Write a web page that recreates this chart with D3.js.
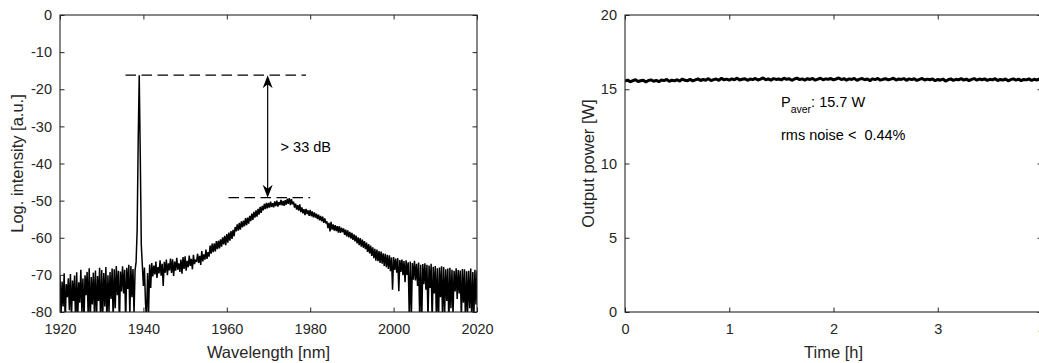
<!DOCTYPE html>
<html>
<head>
<meta charset="utf-8">
<script src="https://cdn.jsdelivr.net/npm/d3@7"></script>
<style>
  html, body { margin: 0; padding: 0; background: #fff; }
  svg { display: block; font-family: "Liberation Sans", Arial, Helvetica, sans-serif; }
  .axis text { fill: #262626; font-size: 14.5px; font-family: "Liberation Sans", Arial, sans-serif; }
  .axis line { stroke: #262626; stroke-width: 1; }
  .axis .domain { display: none; }
</style>
</head>
<body>
<svg id="chart" width="1039" height="363"></svg>
<script>
// ---------- Left panel: optical spectrum ----------
// Log. intensity (dB) sampled every 0.25 nm starting at 1920 nm
const spectrumStartNm = 1920;
const spectrumStepNm = 0.25;
const spectrumDb = [
  // 1920-1924
  -70.4, -81, -71.8, -78.5,  -69.6, -83, -72.5, -76,  -70.9, -79.5, -69.8, -82,  -71.5, -77, -70.2, -84,  -69.3, -81.5, -72, -77.5,
  // 1925-1929
  -68.6, -80, -71, -83,  -70.1, -75.5, -69.2, -81,  -68.2, -83.5, -70.6, -78,  -69.4, -80.5, -68.8, -82.5,  -70.3, -77, -68.1, -84,
  // 1930-1934
  -68.7, -81, -69.5, -78.5,  -67.9, -83, -70.1, -80,  -69.2, -76.5, -68.3, -82,  -68.5, -79, -67.6, -75.5,  -68.9, -84, -69.1, -74.5,
  // 1935-1939 (signal line near 1939 nm)
  -67.7, -75, -68.6, -83,  -68.1, -73.8, -67.3, -81,  -67.6, -76, -68.4, -80.5,  -68.8, -66.5, -58, -34,  -16.2, -38, -62, -67.5,
  // 1940-1944
  -73, -68, -77.5, -82,  -69.5, -80, -67.2, -73.5,  -66.8, -70.4, -67.5, -69.9,  -66.4, -70.8, -67.9, -69.6,  -66.1, -70.2, -67, -73,
  // 1945-1949
  -66.5, -69.4, -65.9, -70.1,  -66.9, -68.8, -65.6, -69.5,  -65.8, -70.3, -66.4, -68.9,  -65.4, -68.6, -66.9, -69.2,  -65.9, -69.7, -65.2, -68.4,
  // 1950-1954
  -65, -68.9, -66.2, -67.9,  -64.8, -67.6, -65.7, -68.5,  -64.6, -67.1, -65.9, -66.5,  -64.3, -66.8, -64.9, -67.3,  -63.6, -66.4, -64.5, -65.9,
  // 1955-1959
  -63.2, -65.7, -63.9, -65.1,  -62.1, -64.3, -61.6, -63.9,  -61.5, -63.7, -60.9, -63.1,  -60.8, -62.9, -60.4, -62.4,  -59.9, -61.8, -59.5, -62,
  // 1960-1964
  -59, -61.3, -58.6, -60.8,  -58.2, -60.3, -57.9, -59.6,  -57.1, -58.3, -56.4, -58.1,  -56, -57.8, -55.6, -57.2,  -55.4, -56.9, -54.7, -56.6,
  // 1965-1969
  -54.6, -56.2, -54.1, -55.5,  -53.5, -55.2, -53, -54.6,  -52.6, -54.3, -52.2, -53.8,  -51.7, -53.3, -51.4, -52.6,  -50.9, -52.3, -50.6, -52.1,
  // 1970-1974
  -50.6, -51.9, -50.3, -51.7,  -50.7, -51.8, -50.2, -51.5,  -50, -51.6, -50.4, -51.2,  -49.8, -51.3, -50.1, -51.4,  -49.9, -51.1, -49.5, -50.9,
  // 1975-1979
  -49.3, -51.2, -49.6, -51,  -50.3, -51.9, -50.8, -52.4,  -51.2, -52.7, -51, -53.1,  -51.8, -53.4, -52.3, -53.9,  -52.2, -53.6, -52.6, -54.1,
  // 1980-1984
  -52.5, -54.2, -52.9, -54.5,  -53.2, -54.6, -53.5, -55,  -53.8, -55.3, -54.1, -55.6,  -54.3, -56, -54.8, -56.1,  -55.6, -57.4, -56, -58.3,
  // 1985-1989
  -55.7, -57.8, -56.4, -58.1,  -56.6, -58.2, -56.9, -58.6,  -56.9, -58.7, -57.3, -58.5,  -57.5, -59.2, -57.8, -59.6,  -58, -59.9, -58.4, -60.2,
  // 1990-1994
  -58.7, -60.6, -59.1, -61,  -59.4, -61.5, -59.9, -62,  -60.1, -62.4, -60.5, -62.7,  -60.9, -63.1, -61.3, -63.8,  -61.7, -64.2, -62.1, -64.9,
  // 1995-1999
  -62.6, -65.5, -63, -66.2,  -63.2, -66.3, -63.6, -66.8,  -63.7, -67, -64.2, -67.6,  -64.3, -67.9, -64.6, -68.4,  -64.7, -69, -65.3, -74,
  // 2000-2004
  -65.2, -68.7, -65.6, -69.4,  -65.5, -74.4, -66, -69.2,  -65.9, -70.1, -66.3, -72,  -66.1, -70, -66.6, -81,  -66.4, -82, -66.8, -71.3,
  // 2005-2009
  -66.2, -71.5, -67, -73,  -66.7, -81.5, -67.3, -83,  -67.1, -72.5, -66.9, -74,  -67.3, -82, -67.5, -73.5,  -67, -83, -67.8, -75,
  // 2010-2014
  -67.6, -81, -68.2, -84,  -68, -76, -67.7, -82.5,  -67.9, -80, -68.5, -77,  -68.3, -83.5, -68.1, -79,  -68.6, -81, -68.9, -74.5,
  // 2015-2019
  -68.2, -76.5, -68.7, -75,  -68.8, -82, -68.4, -77.5,  -68.5, -84, -69, -80,  -68.9, -79, -68.3, -83,  -69.2, -81.5, -68.6, -78,
  // 2020
  -68.8
];
const wavelengthDomain = [1920, 2020];
const wavelengthTicks = [1920, 1940, 1960, 1980, 2000, 2020];
const intensityDomain = [-80, 0];
const intensityTicks = [0, -10, -20, -30, -40, -50, -60, -70, -80];

// Extinction annotation: signal line level vs. top of the ASE hump
const signalLevelDb = -16.2;
const aseLevelDb = -49.2;
const signalGuideNm = [1935.7, 1979];
const aseGuideNm = [1960.4, 1980];
const arrowNm = 1969.8;
const extinctionLabel = "> 33 dB";
const extinctionLabelAt = [1972.9, -37];

// ---------- Right panel: long-term output power ----------
// Output power (W) sampled every 0.025 h starting at 0 h
const powerStartH = 0;
const powerStepH = 0.025;
const powerW = [
  15.55, 15.62, 15.50, 15.58, 15.64, 15.52, 15.57, 15.61, 15.49, 15.59,
  15.63, 15.54, 15.60, 15.51, 15.62, 15.58, 15.66, 15.53, 15.61, 15.57,
  15.64, 15.55, 15.69, 15.60, 15.58, 15.67, 15.56, 15.63, 15.70, 15.59,
  15.66, 15.61, 15.72, 15.58, 15.65, 15.69, 15.60, 15.74, 15.63, 15.68,
  15.61, 15.70, 15.64, 15.75, 15.62, 15.67, 15.71, 15.60, 15.69, 15.65,
  15.73, 15.62, 15.68, 15.76, 15.64, 15.70, 15.61, 15.72, 15.66, 15.69,
  15.63, 15.74, 15.67, 15.71, 15.60, 15.69, 15.75, 15.65, 15.70, 15.62,
  15.71, 15.66, 15.73, 15.61, 15.68, 15.74, 15.64, 15.70, 15.67, 15.72,
  15.63, 15.69, 15.76, 15.65, 15.71, 15.62, 15.70, 15.66, 15.73, 15.60,
  15.68, 15.72, 15.64, 15.69, 15.58, 15.70, 15.65, 15.73, 15.61, 15.67,
  15.71, 15.63, 15.68, 15.74, 15.62, 15.69, 15.66, 15.72, 15.60, 15.70,
  15.65, 15.71, 15.59, 15.67, 15.73, 15.62, 15.68, 15.64, 15.70, 15.57,
  15.66, 15.61, 15.69, 15.55, 15.64, 15.70, 15.60, 15.67, 15.63, 15.71,
  15.62, 15.68, 15.58, 15.66, 15.72, 15.61, 15.69, 15.64, 15.70, 15.60,
  15.67, 15.63, 15.71, 15.59, 15.66, 15.62, 15.69, 15.57, 15.65, 15.70,
  15.61, 15.68, 15.58, 15.66, 15.63, 15.70, 15.59, 15.67, 15.62, 15.69,
  15.64
];
const timeDomain = [0, 4];
const timeTicks = [0, 1, 2, 3, 4];
const powerDomain = [0, 20];
const powerTicks = [0, 5, 10, 15, 20];
const averagePowerText = ": 15.7 W";
const rmsNoiseText = "rms noise <  0.44%";

// ---------- Layout ----------
const svg = d3.select("#chart");
const plotTop = 15, plotBottom = 312;
const leftPanel = { x0: 60, x1: 477 };
const rightPanel = { x0: 625, x1: 1042 };
const ink = "#262626";
const tickLen = 4.5;
const xLabelBaseline = 358;

function frame(panel, x, y, xTicks, yTicks, yFormat) {
  const g = svg.append("g");
  g.append("g").attr("class", "axis")
    .attr("transform", `translate(0,${plotBottom})`)
    .call(d3.axisBottom(x).tickValues(xTicks).tickSizeInner(-tickLen).tickSizeOuter(0)
      .tickPadding(12).tickFormat(d => String(d)));
  g.append("g").attr("class", "axis")
    .attr("transform", `translate(0,${plotTop})`)
    .call(d3.axisTop(x).tickValues(xTicks).tickSizeInner(-tickLen).tickSizeOuter(0).tickFormat(() => ""));
  g.append("g").attr("class", "axis")
    .attr("transform", `translate(${panel.x0},0)`)
    .call(d3.axisLeft(y).tickValues(yTicks).tickSizeInner(-tickLen).tickSizeOuter(0)
      .tickPadding(8).tickFormat(yFormat));
  g.append("g").attr("class", "axis")
    .attr("transform", `translate(${panel.x1},0)`)
    .call(d3.axisRight(y).tickValues(yTicks).tickSizeInner(-tickLen).tickSizeOuter(0).tickFormat(() => ""));
  g.append("rect")
    .attr("x", panel.x0).attr("y", plotTop)
    .attr("width", panel.x1 - panel.x0).attr("height", plotBottom - plotTop)
    .attr("fill", "none").attr("stroke", ink).attr("stroke-width", 1.1);
  return g;
}

function clip(id, panel) {
  svg.append("clipPath").attr("id", id)
    .append("rect")
    .attr("x", panel.x0).attr("y", plotTop)
    .attr("width", panel.x1 - panel.x0).attr("height", plotBottom - plotTop);
}

// ---------- Spectrum ----------
const xW = d3.scaleLinear().domain(wavelengthDomain).range([leftPanel.x0, leftPanel.x1]);
const yI = d3.scaleLinear().domain(intensityDomain).range([plotBottom, plotTop]);
clip("clipSpectrum", leftPanel);

svg.append("path")
  .datum(spectrumDb)
  .attr("clip-path", "url(#clipSpectrum)")
  .attr("fill", "none")
  .attr("stroke", "#000")
  .attr("stroke-width", 1.5)
  .attr("stroke-linejoin", "bevel")
  .attr("d", d3.line()
    .x((d, i) => xW(spectrumStartNm + i * spectrumStepNm))
    .y(d => yI(d)));

frame(leftPanel, xW, yI, wavelengthTicks, intensityTicks, d => String(d));

// Guide lines and double arrow
const ann = svg.append("g");
[[signalGuideNm, signalLevelDb], [aseGuideNm, aseLevelDb]].forEach(([span, level]) => {
  ann.append("line")
    .attr("x1", xW(span[0])).attr("x2", xW(span[1]))
    .attr("y1", yI(level)).attr("y2", yI(level))
    .attr("stroke", "#000").attr("stroke-width", 1.2)
    .attr("stroke-dasharray", "10.5,5.5");
});
const ax = xW(arrowNm), ayTop = yI(signalLevelDb), ayBot = yI(aseLevelDb);
ann.append("line")
  .attr("x1", ax).attr("x2", ax).attr("y1", ayTop + 6).attr("y2", ayBot - 6)
  .attr("stroke", "#000").attr("stroke-width", 1.2);
// arrow heads with swept-back barbs
ann.append("path")
  .attr("d", `M${ax},${ayTop} L${ax + 5},${ayTop + 13} L${ax},${ayTop + 9} L${ax - 5},${ayTop + 13} Z`)
  .attr("fill", "#000");
ann.append("path")
  .attr("d", `M${ax},${ayBot} L${ax + 5},${ayBot - 13} L${ax},${ayBot - 9} L${ax - 5},${ayBot - 13} Z`)
  .attr("fill", "#000");
ann.append("text")
  .attr("x", xW(extinctionLabelAt[0])).attr("y", yI(extinctionLabelAt[1]))
  .attr("font-size", "14.5px").attr("fill", "#000")
  .text(extinctionLabel);

svg.append("text")
  .attr("transform", `translate(23,${(plotTop + plotBottom) / 2}) rotate(-90)`)
  .attr("text-anchor", "middle").attr("font-size", "16.5px").attr("fill", ink)
  .text("Log. intensity [a.u.]");
svg.append("text")
  .attr("x", (leftPanel.x0 + leftPanel.x1) / 2).attr("y", xLabelBaseline)
  .attr("text-anchor", "middle").attr("font-size", "16.5px").attr("fill", ink)
  .text("Wavelength [nm]");

// ---------- Power stability ----------
const xT = d3.scaleLinear().domain(timeDomain).range([rightPanel.x0, rightPanel.x1]);
const yP = d3.scaleLinear().domain(powerDomain).range([plotBottom, plotTop]);
clip("clipPower", rightPanel);

svg.append("path")
  .datum(powerW)
  .attr("clip-path", "url(#clipPower)")
  .attr("fill", "none")
  .attr("stroke", "#000")
  .attr("stroke-width", 3)
  .attr("stroke-linejoin", "bevel")
  .attr("d", d3.line()
    .x((d, i) => xT(powerStartH + i * powerStepH))
    .y(d => yP(d)));

frame(rightPanel, xT, yP, timeTicks, powerTicks, d => String(d));

const pText = svg.append("text")
  .attr("x", 781).attr("y", 106.5)
  .attr("font-size", "14.5px").attr("fill", "#000");
pText.append("tspan").text("P");
pText.append("tspan").attr("font-size", "10.5px").attr("dy", 6).text("aver");
pText.append("tspan").attr("dy", -6).text(averagePowerText);

svg.append("text")
  .attr("x", 781).attr("y", 140)
  .attr("font-size", "14.5px").attr("fill", "#000")
  .style("white-space", "pre")
  .text(rmsNoiseText);

svg.append("text")
  .attr("transform", `translate(594,${(plotTop + plotBottom) / 2}) rotate(-90)`)
  .attr("text-anchor", "middle").attr("font-size", "16.5px").attr("fill", ink)
  .text("Output power [W]");
svg.append("text")
  .attr("x", (rightPanel.x0 + rightPanel.x1) / 2).attr("y", xLabelBaseline)
  .attr("text-anchor", "middle").attr("font-size", "16.5px").attr("fill", ink)
  .text("Time [h]");
</script>
</body>
</html>
